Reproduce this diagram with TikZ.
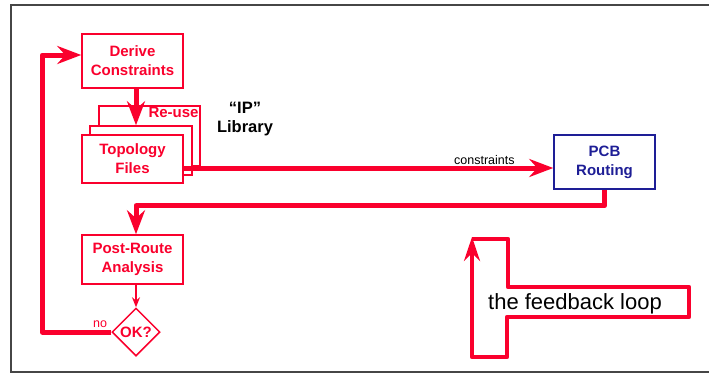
\documentclass[tikz,border=0pt]{standalone}
\usepackage{fontspec}
\setmainfont{Liberation Sans}
\usetikzlibrary{arrows.meta,shapes.geometric,calc}
\definecolor{fred}{RGB}{250,0,45}
\definecolor{fblue}{RGB}{30,30,150}
\definecolor{fgray}{RGB}{70,70,70}

\begin{document}
\begin{tikzpicture}[x=1pt,y=-1pt,
		box/.style={draw=fred,fill=white,line width=1.5pt,text=fred,align=center,inner sep=0pt,
			font=\fontsize{15}{19}\selectfont\bfseries,minimum width=101pt},
		bigline/.style={fred,line width=5pt,line join=round},
		bigarrow/.style={bigline,-{Stealth[length=24pt,width=18pt,inset=8pt]}},
		small/.style={font=\fontsize{12.5}{14}\selectfont}]
		\useasboundingbox (0,0) rectangle (709,375);
		\draw[fgray,line width=1.5pt] (709,5) -- (11,5) -- (11,372) -- (709,372);

		\node[box,minimum height=54pt] (derive) at (132.5,61) {Derive\\Constraints};
		\node[box,minimum height=60pt] (reuse) at (149.5,136) {};
		\node[box,minimum width=102pt,minimum height=49pt] (files2) at (141,150.5) {};
		\node[box,minimum height=48pt] (topo) at (132.5,159) {Topology\\Files};
		\node[anchor=north east,inner sep=2pt,text=fred,font=\fontsize{15}{19}\selectfont\bfseries] (reusetext) at (reuse.north east) {Re-use};
		\node[align=center,font=\fontsize{16.5}{19}\selectfont\bfseries] (lib) at (245,119) {“IP”\\Library};
		\node[box,draw=fblue,text=fblue,minimum height=54pt] (pcb) at (604.5,162) {PCB\\Routing};
		\node[box,minimum height=49pt] (post) at (132.5,259.5) {Post-Route\\Analysis};
		\node[box,shape=diamond,minimum width=48pt,minimum height=48pt] (ok) at (136,332) {OK?};
		\node[small,anchor=south east,inner sep=0pt,text=fred] (no) at ([shift={(-4pt,4pt)}]ok.west) {no};

		\draw[bigarrow] (ok |- derive.south) -- (ok |- files2.north);
		\coordinate (cout) at ([yshift=-9pt]topo.east);
		\draw[bigarrow] (cout) -- (cout -| pcb.west)
			node[small,text=black,pos=0.905,anchor=south east,inner sep=1pt] {constraints};
		\draw[bigarrow] (pcb.south) -- ++(0,16) -| (ok |- post.north);
		\draw[fred,line width=2pt,-{Stealth[length=10pt,width=8pt]}] (post.south -| ok) -- (ok.north);
		\draw[bigarrow] (ok.west) -- ++(-69,0) |- ([yshift=6pt]derive.west);

		% the loop
		\draw[fred,line width=4.5pt,line join=round,-{Stealth[length=24pt,width=16pt,inset=8pt]}]
			(472,239) -- (508,239) -- (508,287) -- (689,287) -- (689,317)
			-- (507,317) -- (507,357) -- (472,357) -- (472,237);
		\node[font=\fontsize{22}{26}\selectfont] (fbtext) at (575,304) {the feedback loop};
\end{tikzpicture}
\end{document}
